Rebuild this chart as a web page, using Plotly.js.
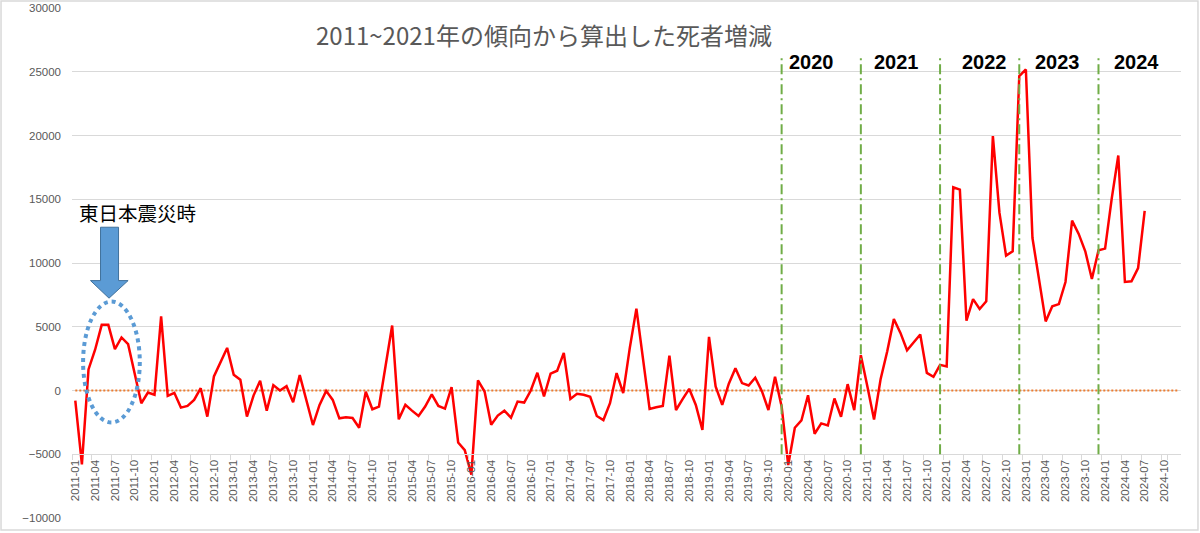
<!DOCTYPE html>
<html>
<head>
<meta charset="utf-8">
<script src="https://cdn.plot.ly/plotly-3.0.1.min.js"></script>
<style>html,body{margin:0;padding:0;background:#fff;}#chart{width:1200px;height:533px;}</style>
</head>
<body>
<div id="chart"></div>
<script>
// ---- data ----
const startYear = 2011;
const endYear = 2024;
const months = [];
for (let y = startYear; y <= endYear; y++) {
  for (let m = 1; m <= 12; m++) months.push(y + '-' + String(m).padStart(2, '0'));
}
const tickLabels = months.filter((m, i) => i % 3 === 0);

const v2011 = [-790, -5800, 1650, 3200, 5150, 5150, 3250, 4160, 3630, 1300, -1000, -160];
const v2012 = [-330, 5820, -420, -180, -1340, -1210, -740, 180, -2050, 1100, 2290, 3340];
const v2013 = [1240, 840, -2050, -400, 760, -1580, 420, 0, 340, -920, 1210, -800];
const v2014 = [-2710, -1130, -30, -740, -2180, -2100, -2160, -2920, -100, -1470, -1260, 1920];
const v2015 = [5100, -2260, -1130, -1580, -2000, -1260, -300, -1210, -1420, 260, -4080, -4680];
const v2016 = [-6600, 790, -80, -2680, -1970, -1580, -2130, -870, -950, 0, 1390, -470];
const v2017 = [1320, 1550, 2950, -660, -260, -340, -500, -2000, -2320, -1000, 1370, -210];
const v2018 = [3340, 6420, 2500, -1450, -1320, -1210, 2740, -1530, -680, 130, -1130, -3100];
const v2019 = [4210, 320, -1130, 530, 1740, 580, 390, 1000, -30, -1530, 1080, -1250];
const v2020 = [-5850, -2920, -2350, -370, -3390, -2580, -2740, -630, -2060, 500, -1540, 2770];
const v2021 = [300, -2270, 910, 3080, 5610, 4520, 3160, 3790, 4390, 1380, 1070, 2010];
const v2022 = [1880, 15940, 15760, 5470, 7170, 6390, 6990, 19950, 13930, 10580, 10920, 24660];
const v2023 = [25180, 11960, 8690, 5420, 6600, 6780, 8510, 13320, 12280, 10920, 8740, 10990];
const v2024 = [11130, 15030, 18430, 8510, 8560, 9600, 14080];

const values = [].concat(v2011, v2012, v2013, v2014, v2015, v2016, v2017, v2018, v2019, v2020, v2021, v2022, v2023, v2024);
const xMonths = months.slice(0, values.length);
const baseline = [0, 0];

// vertical year separators (placed at December of the previous year)
const separators = ['2019-12', '2020-12', '2021-12', '2022-12', '2023-12'];
const yearLabels = ['2020', '2021', '2022', '2023', '2024'];
const yearLabelPos = [111.5, 124.4, 137.7, 148.8, 160.7];

const titleText = '2011~2021年の傾向から算出した死者増減';
const noteText = '東日本震災時';

// ---- chart ----
const gray = '#595959';
const shapes = [];

separators.forEach(s => {
  shapes.push({type: 'line', xref: 'x', yref: 'y', x0: s, x1: s, y0: -5000, y1: 26200,
    line: {color: '#70AD47', width: 2, dash: '10px,4px,2px,4px'}});
});

// outer frame
shapes.push({type: 'rect', xref: 'paper', yref: 'paper', x0: -0.064, x1: 1.0153, y0: -0.0235, y1: 1.0137,
  line: {color: '#D9D9D9', width: 1.5}, fillcolor: 'rgba(0,0,0,0)'});

// block arrow
shapes.push({type: 'path', xref: 'x', yref: 'y',
  path: 'M 3.82,12806 L 6.55,12806 L 6.55,8621 L 8.0,8621 L 5.11,7241 L 2.3,8621 L 3.82,8621 Z',
  fillcolor: '#5B9BD5', line: {color: '#41719C', width: 1}});

// dotted ellipse
shapes.push({type: 'circle', xref: 'x', yref: 'y', x0: 1.18, x1: 9.77, y0: -2508, y1: 6975,
  line: {color: '#5B9BD5', width: 4, dash: 'dot'}});

const annotations = yearLabels.map((t, k) => ({
  x: yearLabelPos[k], y: 25780, xref: 'x', yref: 'y', text: t, showarrow: false,
  xanchor: 'center', yanchor: 'middle',
  font: {family: 'Liberation Sans, Arial, sans-serif', size: 20, color: '#000', weight: 'bold'}
}));
annotations.push({x: 9.4, y: 13930, xref: 'x', yref: 'y', text: noteText, showarrow: false,
  xanchor: 'center', yanchor: 'middle',
  font: {family: 'Noto Sans CJK JP, sans-serif', size: 19.5, color: '#000'}});

const zeroTrace = {
  type: 'scatter', mode: 'lines', x: [months[0], months[months.length - 1]], y: baseline,
  line: {color: '#ED7D31', width: 2, dash: '2px,2px'}, hoverinfo: 'skip'
};

const trace = {
  type: 'scatter', mode: 'lines', x: xMonths, y: values,
  line: {color: '#FF0000', width: 2.5}, hoverinfo: 'x+y'
};

const layout = {
  width: 1200, height: 533,
  margin: {l: 72, r: 19, t: 8, b: 15},
  paper_bgcolor: '#fff', plot_bgcolor: '#fff',
  showlegend: false,
  title: {text: titleText, x: 0.4533, xanchor: 'center', y: 0.9306, yanchor: 'middle',
    font: {family: 'Noto Sans CJK JP, sans-serif', size: 24, color: gray}},
  xaxis: {
    type: 'category', categoryorder: 'array', categoryarray: months,
    range: [-0.5, months.length - 0.5],
    tickmode: 'array', tickvals: tickLabels, ticktext: tickLabels,
    tickson: 'boundaries',
    tickangle: -90, ticks: 'outside', ticklen: 5, tickcolor: '#D9D9D9',
    showline: true, linecolor: '#D9D9D9', linewidth: 1,
    showgrid: false, zeroline: false,
    anchor: 'free', position: 0.125,
    tickfont: {family: 'Liberation Sans, Arial, sans-serif', size: 11.5, color: gray}
  },
  yaxis: {
    range: [-10000, 30000], dtick: 5000, tick0: 0,
    showgrid: true, gridcolor: '#D9D9D9', gridwidth: 1,
    zeroline: false, showline: false, ticks: '',
    tickformat: 'd',
    ticklabelstandoff: 10,
    tickfont: {family: 'Liberation Sans, Arial, sans-serif', size: 11.5, color: gray}
  },
  shapes: shapes,
  annotations: annotations
};

Plotly.newPlot('chart', [zeroTrace, trace], layout, {displayModeBar: false, staticPlot: true});
</script>
</body>
</html>
